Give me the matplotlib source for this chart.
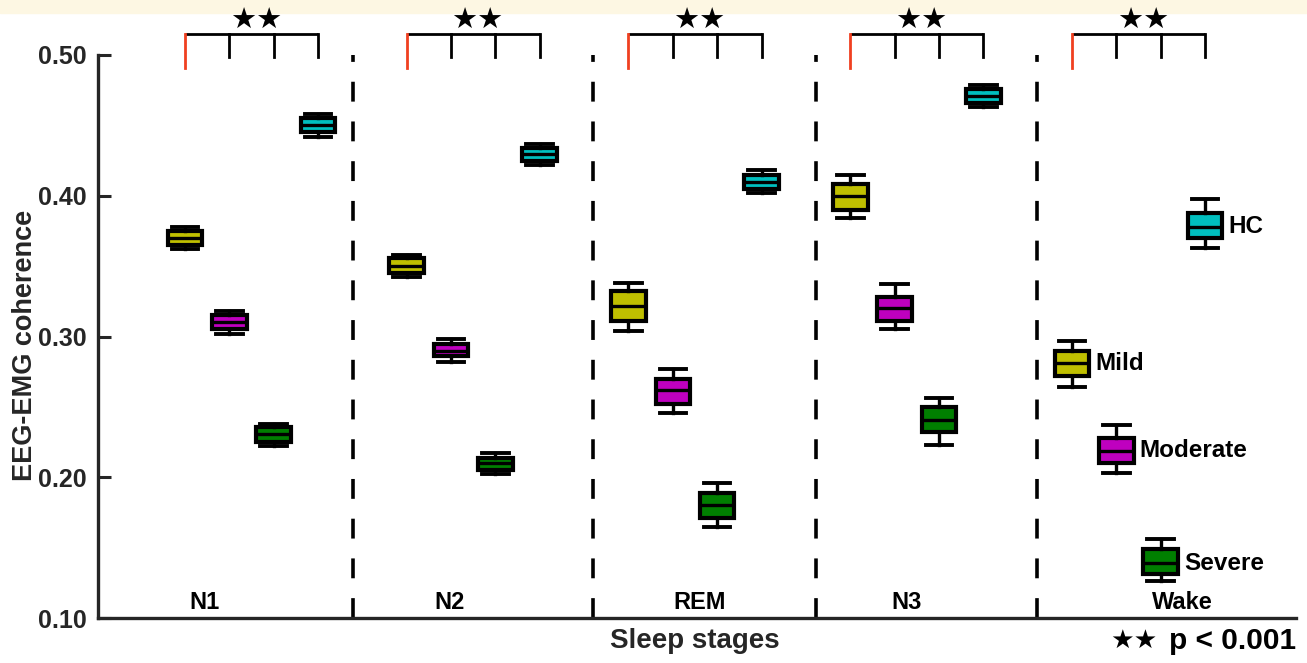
import numpy as np
import matplotlib.pyplot as plt
from matplotlib.patches import Rectangle

plt.rcParams['font.family'] = ['Liberation Sans', 'DejaVu Sans']
plt.rcParams['font.weight'] = 'bold'

# sleep stages and patient groups
stages = ["N1", "N2", "REM", "N3", "Wake"]
groups = ["Mild", "Moderate", "Severe", "HC"]
colors = ["#BFBF00", "#BF00BF", "#007F00", "#00BFBF"]

# box statistics per stage (rows) and group (cols)
medians = [[0.370, 0.310, 0.231, 0.450],
           [0.350, 0.290, 0.210, 0.430],
           [0.322, 0.262, 0.180, 0.410],
           [0.400, 0.320, 0.241, 0.471],
           [0.281, 0.219, 0.139, 0.378]]
q1 = [[0.365, 0.305, 0.225, 0.445],
      [0.345, 0.286, 0.205, 0.425],
      [0.311, 0.252, 0.171, 0.405],
      [0.390, 0.311, 0.232, 0.466],
      [0.272, 0.210, 0.131, 0.370]]
q3 = [[0.375, 0.315, 0.236, 0.455],
      [0.356, 0.295, 0.214, 0.434],
      [0.332, 0.270, 0.189, 0.415],
      [0.408, 0.328, 0.250, 0.476],
      [0.290, 0.228, 0.149, 0.388]]
whislo = [[0.362, 0.302, 0.222, 0.442],
          [0.342, 0.282, 0.202, 0.422],
          [0.304, 0.246, 0.165, 0.402],
          [0.384, 0.305, 0.223, 0.463],
          [0.264, 0.203, 0.126, 0.363]]
whishi = [[0.378, 0.318, 0.238, 0.458],
          [0.358, 0.298, 0.217, 0.437],
          [0.338, 0.277, 0.196, 0.418],
          [0.415, 0.337, 0.256, 0.479],
          [0.297, 0.237, 0.156, 0.398]]

yticks = [0.10, 0.20, 0.30, 0.40, 0.50]

# layout (x in box slots)
stage_gap = 5
dividers = [3.79, 9.2, 14.23, 19.21]
stage_label_x = [0.45, 5.97, 11.61, 16.26, 22.48]

fig = plt.figure(figsize=(13.07, 6.63), dpi=100)
fig.patches.append(Rectangle((0, 1 - 13 / 663), 1, 13 / 663, transform=fig.transFigure,
                             color="#FDF7E3", zorder=-1))
ax = fig.add_axes([98 / 1307, 45 / 663, 1198 / 1307, 563 / 663])

dark = "#262626"
for i, st in enumerate(stages):
    base = i * stage_gap
    stats = []
    for j in range(len(groups)):
        stats.append(dict(med=medians[i][j], q1=q1[i][j], q3=q3[i][j],
                          whislo=whislo[i][j], whishi=whishi[i][j], fliers=[]))
    pos = [base + j for j in range(len(groups))]
    bp = ax.bxp(stats, positions=pos, widths=0.78, capwidths=0.6, patch_artist=True,
                showfliers=False, manage_ticks=False,
                boxprops=dict(linewidth=3.0, edgecolor="black"),
                medianprops=dict(linewidth=2.4, color="black"),
                whiskerprops=dict(linewidth=2.4, color="black"),
                capprops=dict(linewidth=2.8, color="black"))
    for patch, c in zip(bp['boxes'], colors):
        patch.set_facecolor(c)

    # significance bracket
    ytop, ytick, yred = 0.515, 0.4985, 0.491
    ax.plot([pos[0], pos[-1]], [ytop, ytop], color="black", lw=2.0, clip_on=False,
            solid_capstyle='butt')
    ax.plot([pos[0], pos[0]], [ytop, yred], color="#F04020", lw=2.0, clip_on=False)
    for p in pos[1:]:
        ax.plot([p, p], [ytop, ytick], color="black", lw=2.0, clip_on=False)
    ax.text(base + 1.6, 0.5245, "★★", ha="center", va="center", fontsize=21,
            family="DejaVu Sans", clip_on=False)

    ax.text(stage_label_x[i], 0.1025, st, ha="center", va="bottom", fontsize=17,
            fontweight="bold", color="black")

# group names next to the Wake boxes
last = len(stages) - 1
for j, g in enumerate(groups):
    ax.text(last * stage_gap + j + 0.52, medians[last][j], g, ha="left", va="center",
            fontsize=17.5, fontweight="bold", color="black")

for d in dividers:
    ax.axvline(d, color="black", lw=2.6, linestyle=(0, (5.5, 5.5)))

ax.set_xlim(-1.96, 25.05)
ax.set_ylim(0.10, 0.50)
ax.set_yticks(yticks)
ax.set_yticklabels([f"{t:.2f}" for t in yticks])
ax.set_xticks([])
ax.tick_params(axis='y', direction='in', length=9, width=2.2, color=dark,
               labelsize=18, labelcolor=dark, pad=8)
for lab in ax.get_yticklabels():
    lab.set_fontweight("bold")
for s in ["top", "right"]:
    ax.spines[s].set_visible(False)
for s in ["left", "bottom"]:
    ax.spines[s].set_linewidth(2.4)
    ax.spines[s].set_color(dark)

fig.text(25 / 1307, 1 - 345 / 663, "EEG-EMG coherence", rotation=90, ha="center",
         va="center", fontsize=19.5, fontweight="bold", color=dark)
fig.text(695 / 1307, 1 - 641 / 663, "Sleep stages", ha="center", va="center",
         fontsize=20, fontweight="bold", color=dark)
fig.text(1296 / 1307, 1 - 641 / 663, "p < 0.001", ha="right", va="center",
         fontsize=21.5, fontweight="bold", color="black")
fig.text(1158 / 1307, 1 - 641 / 663, "★★", ha="right", va="center",
         fontsize=19, color="black", family="DejaVu Sans")

fig.savefig("out.png", dpi=100, facecolor="white")
